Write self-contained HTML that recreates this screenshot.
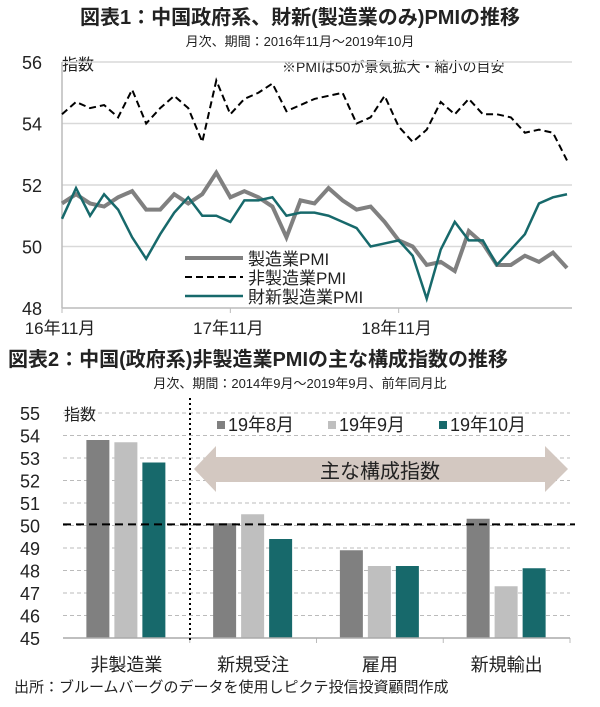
<!DOCTYPE html>
<html><head><meta charset="utf-8"><style>
body{margin:0;background:#fff;width:600px;height:702px;overflow:hidden}
svg text{font-family:"Liberation Sans","Noto Sans CJK JP",sans-serif;fill:#222}
</style></head><body>
<svg id="c" width="600" height="702">
<text x="300" y="24" text-anchor="middle" font-size="20" font-weight="bold">図表1：中国政府系、財新(製造業のみ)PMIの推移</text>
<text x="300" y="46" text-anchor="middle" font-size="13">月次、期間：2016年11月～2019年10月</text>
<text x="62" y="70" font-size="16">指数</text>
<text x="282" y="72" font-size="14">※PMIは50が景気拡大・縮小の目安</text>
<g id="top"></g>
<text x="8" y="366" font-size="20" font-weight="bold">図表2：中国(政府系)非製造業PMIの主な構成指数の推移</text>
<text x="300" y="388" text-anchor="middle" font-size="13">月次、期間：2014年9月～2019年9月、前年同月比</text>
<g id="bot"></g>
<text x="14" y="692" font-size="15">出所：ブルームバーグのデータを使用しピクテ投信投資顧問作成</text>
</svg>
<script>
const mfg=[51.4,51.7,51.4,51.3,51.6,51.8,51.2,51.2,51.7,51.4,51.7,52.4,51.6,51.8,51.6,51.3,50.3,51.5,51.4,51.9,51.5,51.2,51.3,50.8,50.2,50.0,49.4,49.5,49.2,50.5,50.1,49.4,49.4,49.7,49.5,49.8,49.3];
const nonMfg=[54.3,54.7,54.5,54.6,54.2,55.1,54.0,54.5,54.9,54.5,53.4,55.4,54.3,54.8,55.0,55.3,54.4,54.6,54.8,54.9,55.0,54.0,54.2,54.9,53.9,53.4,53.8,54.7,54.3,54.8,54.3,54.3,54.2,53.7,53.8,53.7,52.8];
const caixin=[50.9,51.9,51.0,51.7,51.2,50.3,49.6,50.4,51.1,51.6,51.0,51.0,50.8,51.5,51.5,51.6,51.0,51.1,51.1,51.0,50.8,50.6,50.0,50.1,50.2,49.7,48.3,49.9,50.8,50.2,50.2,49.4,49.9,50.4,51.4,51.6,51.7];
const topTicks=[48,50,52,54,56];
const xLabels=["16年11月","17年11月","18年11月"];
const xLabelIdx=[0,12,24];

const groups=["非製造業","新規受注","雇用","新規輸出"];
const aug=[53.8,50.1,48.9,50.3];
const sep=[53.7,50.5,48.2,47.3];
const oct=[52.8,49.4,48.2,48.1];
const botTicks=[45,46,47,48,49,50,51,52,53,54,55];

const NS="http://www.w3.org/2000/svg";
function mk(p,t,a){const e=document.createElementNS(NS,t);for(const k in a)e.setAttribute(k,a[k]);p.appendChild(e);return e;}
// top chart
const T=document.getElementById('top');
const tx=i=>62+i*(567-62)/36, ty=v=>308-(v-48)*(308-62)/8;
topTicks.forEach(v=>{
 const l=mk(T,'line',{x1:62,x2:572,y1:ty(v),y2:ty(v),stroke:v==48?'#bbb':'#d9d9d9','stroke-width':1.5});
 
 
 const t=mk(T,'text',{x:42,y:ty(v)+7,'text-anchor':'end','font-size':18});t.textContent=v;
 
 
});
const ya=mk(T,'line',{x1:62,x2:62,y1:62,y2:308,stroke:'#bbb','stroke-width':1.5});


xLabelIdx.forEach((ix,k)=>{
 mk(T,'line',{x1:tx(ix),x2:tx(ix),y1:308,y2:313,stroke:'#bbb'});
 const t=mk(T,'text',{x:tx(ix)-2,y:334,'text-anchor':'middle','font-size':17});t.textContent=xLabels[k];
 
 
});
function line(d,st,name){const p=mk(T,'polyline',Object.assign({points:d.map((v,i)=>tx(i)+','+ty(v)).join(' '),fill:'none'},st));
 
 }
line(mfg,{stroke:'#808080','stroke-width':4},'series-manufacturing');
line(nonMfg,{stroke:'#000','stroke-width':2,'stroke-dasharray':'7,4'},'series-non-manufacturing');
line(caixin,{stroke:'#17696b','stroke-width':2.5},'series-caixin');
[['製造業PMI',{stroke:'#808080','stroke-width':4}],['非製造業PMI',{stroke:'#000','stroke-width':2,'stroke-dasharray':'7,4'}],['財新製造業PMI',{stroke:'#17696b','stroke-width':2.5}]].forEach((e,k)=>{
 const y=258+k*19;
 mk(T,'line',Object.assign({x1:185,x2:243,y1:y,y2:y},e[1]));
 const t=mk(T,'text',{x:248,y:y+7,'font-size':17});t.textContent=e[0];
 
 
});
// bottom chart
const B=document.getElementById('bot');
const by=v=>638-(v-45)*22.5;
botTicks.forEach(v=>{
 if(v>45){const l=mk(B,'line',{x1:63,x2:570,y1:by(v),y2:by(v),stroke:'#bbb','stroke-dasharray':'4,3'});
 
 }
 const t=mk(B,'text',{x:40,y:by(v)+7,'text-anchor':'end','font-size':18});t.textContent=v;
 
 
});
const yl=mk(B,'text',{x:64,y:420,'font-size':16});yl.textContent='指数';


// arrow
const ar=mk(B,'polygon',{points:'194,469 216,446 216,457 545,457 545,446 568,469 545,492 545,482 216,482 216,492',fill:'#d3c8c1'});


const at=mk(B,'text',{x:380,y:478,'text-anchor':'middle','font-size':20});at.textContent='主な構成指数';


const gw=(570-63)/4, cols=['#808080','#bfbfbf','#17696b'], sers=[aug,sep,oct];
groups.forEach((g,i)=>{
 const c=63+gw*(i+0.5);
 sers.forEach((s,k)=>{
  const r=mk(B,'rect',{x:c-40+k*28,y:by(s[i]),width:23,height:by(45)-by(s[i]),fill:cols[k]});
  
  
 });
 const t=mk(B,'text',{x:c,y:671,'text-anchor':'middle','font-size':18});t.textContent=g;
 
 
 mk(B,'line',{x1:63+gw*(i+1),x2:63+gw*(i+1),y1:638,y2:643,stroke:'#bbb'});
});
const xa=mk(B,'line',{x1:63,x2:570,y1:638,y2:638,stroke:'#aaa','stroke-width':1.5});


const ref=mk(B,'line',{x1:63,x2:575,y1:by(50.05),y2:by(50.05),stroke:'#000','stroke-width':2,'stroke-dasharray':'8,5'});


const sep1=mk(B,'line',{x1:190,x2:190,y1:398,y2:643,stroke:'#000','stroke-width':2,'stroke-dasharray':'2,3'});


['19年8月','19年9月','19年10月'].forEach((n,k)=>{
 const x=217+k*111;
 mk(B,'rect',{x:x,y:421,width:8,height:8,fill:cols[k]});
 const t=mk(B,'text',{x:x+11,y:431,'font-size':18});t.textContent=n;
 
 
});
</script>
</body></html>
